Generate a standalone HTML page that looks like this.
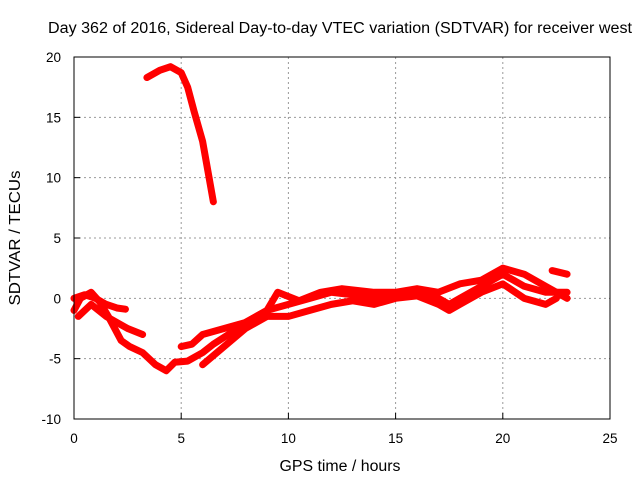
<!DOCTYPE html>
<html><head><meta charset="utf-8"><style>
body{margin:0;background:#fff}
svg{display:block;font-family:"Liberation Sans",sans-serif}
</style></head><body>
<svg id="chart" width="640" height="480" viewBox="0 0 640 480" xmlns="http://www.w3.org/2000/svg">
<text x="340" y="33" font-size="15.5" text-anchor="middle" textLength="584" lengthAdjust="spacingAndGlyphs">Day 362 of 2016, Sidereal Day-to-day VTEC variation (SDTVAR) for receiver west</text>
<text x="340" y="471" font-size="15.5" text-anchor="middle" textLength="121" lengthAdjust="spacingAndGlyphs">GPS time / hours</text>
<text transform="translate(20,238) rotate(-90)" font-size="15.5" text-anchor="middle" textLength="135" lengthAdjust="spacingAndGlyphs">SDTVAR / TECUs</text>
<g id="grid"></g><g id="ticks"></g><g id="series"></g>
<rect x="74" y="57" width="536" height="362" fill="none" stroke="#000" stroke-width="1"/>
</svg>
<script>
const xTicks=[0,5,10,15,20,25];
const yTicks=[-10,-5,0,5,10,15,20];
const seriesArc=[[3.4,18.3],[4,18.9],[4.5,19.2],[5,18.7],[5.3,17.5],[5.6,15.5],[6,13],[6.3,10],[6.5,8]];
const seriesA=[[0,-1],[0.3,0],[0.8,0.5],[1.2,-0.3],[1.6,-1.5],[2.2,-3.5],[2.6,-4],[3.2,-4.5],[3.8,-5.5],[4.3,-6],[4.7,-5.3],[5.3,-5.2],[6,-4.5],[6.5,-3.8],[7.2,-3],[8,-2],[9,-1],[10,-0.5],[11,0],[12,0.5],[13,0.3],[14,0],[15,0.2],[16,0.5],[17,0],[17.5,-0.5],[18,0],[19,1],[20,2],[20.5,1.5],[21,1],[22,0.5],[23,0.5]];
const seriesB=[[0,0],[0.5,0.3],[1,0],[1.5,-0.5],[2,-0.8],[2.4,-0.9]];
const seriesC=[[0.2,-1.5],[0.8,-0.5],[1.5,-1.5],[2.5,-2.5],[3.2,-3]];
const seriesD=[[5,-4],[5.5,-3.8],[6,-3],[7,-2.5],[8,-2],[9,-1],[9.5,0.5],[10.5,-0.2],[11.5,0.5],[12.5,0.8],[14,0.5],[15,0.5],[16,0.8],[17,0.5],[18,1.2],[19,1.5],[20,2.5],[21,2],[22,1],[23,0]];
const seriesE=[[6,-5.5],[7,-4],[8,-2.5],[9,-1.5],[10,-1.5],[11,-1],[12,-0.5],[13,-0.2],[14,-0.5],[15,0],[16,0.2],[17,-0.5],[17.5,-1],[18,-0.5],[19,0.5],[20,1.2],[21,0],[22,-0.5],[22.5,0]];
const seriesF=[[22.3,2.3],[23,2]];
const NS="http://www.w3.org/2000/svg";
const X=v=>74+v*536/25, Y=v=>419-(v+10)*362/30;
function mk(t,a,p){const e=document.createElementNS(NS,t);for(const k in a)e.setAttribute(k,a[k]);p.appendChild(e);return e;}
const g=document.getElementById('grid'),tk=document.getElementById('ticks'),s=document.getElementById('series');
xTicks.forEach(v=>{
  if(v>0&&v<25){const l=mk('line',{x1:X(v),x2:X(v),y1:57,y2:419,stroke:'#999','stroke-dasharray':'2,3'},g);
  
  }
  const t=mk('text',{x:X(v),y:443,'font-size':13.5,'text-anchor':'middle'},tk);t.textContent=v;
  
  
  mk('line',{x1:X(v),x2:X(v),y1:419,y2:413,stroke:'#000'},tk);
});
yTicks.forEach(v=>{
  if(v>-10&&v<20){const l=mk('line',{x1:74,x2:610,y1:Y(v),y2:Y(v),stroke:'#999','stroke-dasharray':'2,3'},g);
  
  }
  const t=mk('text',{x:61,y:Y(v)+5,'font-size':13.5,'text-anchor':'end'},tk);t.textContent=v;
  
  
  mk('line',{x1:74,x2:80,y1:Y(v),y2:Y(v),stroke:'#000'},tk);
});
[seriesArc,seriesA,seriesB,seriesC,seriesD,seriesE,seriesF].forEach((d,i)=>{
  const p=mk('polyline',{points:d.map(q=>X(q[0])+','+Y(q[1])).join(' '),fill:'none',stroke:'#f00','stroke-width':i==0?7:7,'stroke-linejoin':'round','stroke-linecap':'round'},s);
  
  
});
</script>
</body></html>
